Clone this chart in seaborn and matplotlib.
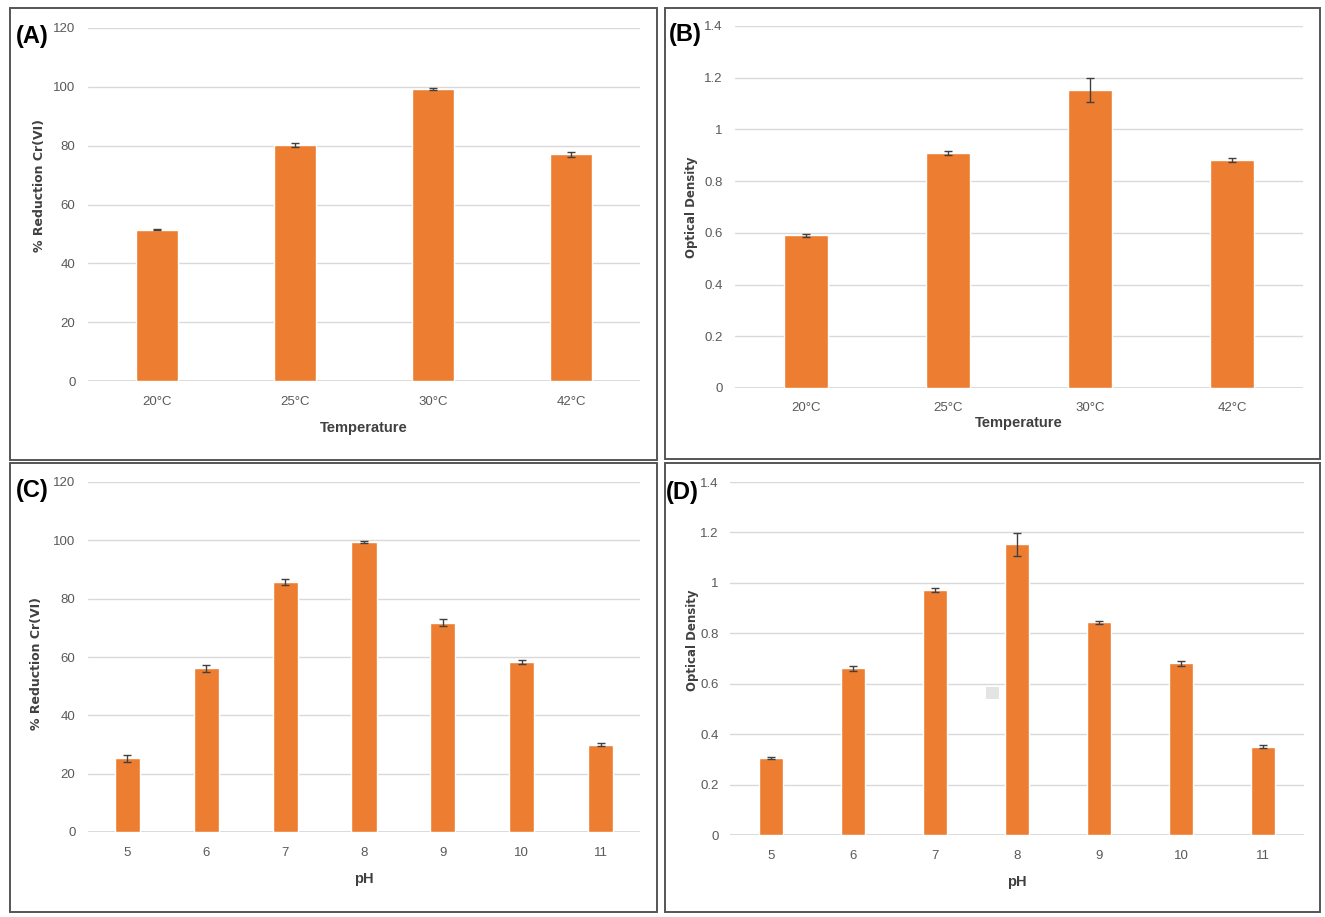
import numpy as np
import pandas as pd
import matplotlib
matplotlib.use('Agg')
import matplotlib.pyplot as plt
import seaborn as sns
from matplotlib.patches import Rectangle

# --- data ---
temps = ['20°C', '25°C', '30°C', '42°C']
temp_reduction = [51.5, 80.3, 99.3, 77.0]
temp_reduction_err = [0.3, 0.6, 0.3, 1.0]
temp_od = [0.59, 0.91, 1.153, 0.882]
temp_od_err = [0.005, 0.008, 0.045, 0.007]

ph_vals = ['5', '6', '7', '8', '9', '10', '11']
ph_reduction = [25.3, 56.1, 85.6, 99.5, 71.8, 58.3, 30.0]
ph_reduction_err = [1.2, 1.3, 1.0, 0.3, 1.1, 0.7, 0.5]
ph_od = [0.305, 0.662, 0.970, 1.153, 0.843, 0.682, 0.350]
ph_od_err = [0.005, 0.010, 0.008, 0.045, 0.006, 0.010, 0.006]

sns.set_style('white')
plt.rcParams['font.family'] = ['Liberation Sans', 'DejaVu Sans']

ORANGE = '#ED7D31'
GRID = '#d9d9d9'
TICK = '#595959'

W, H = 1325, 917
fig = plt.figure(figsize=(W / 100, H / 100), dpi=100)
fig.patch.set_facecolor('white')


def px_axes(left, top, right, bottom):
    return fig.add_axes([left / W, 1 - bottom / H, (right - left) / W, (bottom - top) / H])


def panel(ax, cats, vals, errs, ylim, yticks, yfmt, ylabel, xlabel, width,
          ylab_xy, xlab_y, ypad, xpad, ylab_size):
    df = pd.DataFrame({'cat': cats, 'val': vals})
    sns.barplot(data=df, x='cat', y='val', color=ORANGE, saturation=1,
                width=width, errorbar=None, ax=ax)
    ax.errorbar(np.arange(len(cats)), vals, yerr=errs, fmt='none',
                ecolor='#404040', elinewidth=1, capsize=3, capthick=1)
    ax.set_xlim(-0.5, len(cats) - 0.5)
    ax.set_ylim(*ylim)
    ax.set_yticks(yticks)
    ax.set_yticklabels([yfmt(t) for t in yticks])
    ax.grid(axis='y', color=GRID, linewidth=1)
    ax.set_axisbelow(True)
    for s in ax.spines.values():
        s.set_visible(False)
    ax.axhline(0, color=GRID, linewidth=1.3, zorder=0.5)
    ax.tick_params(axis='both', length=0, labelsize=9.5, colors=TICK)
    ax.tick_params(axis='y', pad=ypad)
    ax.tick_params(axis='x', pad=xpad)
    ax.set_ylabel(ylabel, fontsize=ylab_size, fontweight='bold', color='#404040',
                  family=['DejaVu Sans'], va='center', ha='center')
    ax.yaxis.set_label_coords(*ylab_xy)
    ax.set_xlabel(xlabel, fontsize=10.5, fontweight='bold', color='#404040', va='center')
    ax.xaxis.set_label_coords(0.5, xlab_y)


def pct(t):
    return f'{t:.0f}'


def od(t):
    if t == 0:
        return '0'
    if t == 1:
        return '1'
    return f'{t:.1f}'


# panel borders
for (l, t, r, b) in [(10, 8, 657, 460), (665, 8, 1320, 459),
                     (10, 463, 657, 912), (665, 463, 1320, 912)]:
    fig.patches.append(Rectangle((l / W, 1 - b / H), (r - l) / W, (b - t) / H,
                                 transform=fig.transFigure, fill=False,
                                 edgecolor='#555555', linewidth=1.4))

# small grey smudge visible in panel D
fig.patches.append(Rectangle((986 / W, 1 - 699 / H), 13 / W, 12 / H,
                             transform=fig.transFigure, facecolor='#e4e4e4',
                             edgecolor='none'))

od_ticks = np.round(np.arange(0, 1.41, 0.2), 1)

axA = px_axes(88, 28, 640, 381)
panel(axA, temps, temp_reduction, temp_reduction_err, (0, 120),
      np.arange(0, 121, 20), pct, '% Reduction Cr(VI)', 'Temperature', 0.30,
      (-0.087, 0.555), -0.133, 9, 11, 9)

axB = px_axes(735, 26, 1303, 388)
panel(axB, temps, temp_od, temp_od_err, (0, 1.4),
      od_ticks, od, 'Optical Density', 'Temperature', 0.31,
      (-0.076, 0.5), -0.097, 9, 10, 8.5)

axC = px_axes(88, 482, 640, 832)
panel(axC, ph_vals, ph_reduction, ph_reduction_err, (0, 120),
      np.arange(0, 121, 20), pct, '% Reduction Cr(VI)', 'pH', 0.32,
      (-0.094, 0.48), -0.134, 9, 11, 9)

axD = px_axes(730, 482, 1304, 835)
panel(axD, ph_vals, ph_od, ph_od_err, (0, 1.4),
      od_ticks, od, 'Optical Density', 'pH', 0.30,
      (-0.066, 0.552), -0.133, 8, 11, 8.5)

for lab, x, y in [('(A)', 16, 37), ('(B)', 669, 34), ('(C)', 16, 491), ('(D)', 666, 492)]:
    fig.text(x / W, 1 - y / H, lab, fontsize=17, fontweight='bold',
             va='center', ha='left', color='black')

fig.savefig('out.png', dpi=100)
